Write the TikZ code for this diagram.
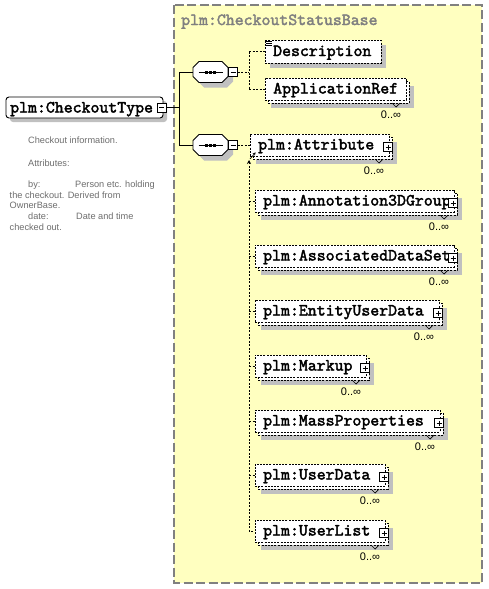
\documentclass[tikz,border=0pt]{standalone}
\usepackage{fontspec}
\setmainfont{Liberation Sans}
\newfontfamily\monob{lmmono10-regular.otf}[FakeBold=2.2]
\usetikzlibrary{arrows.meta,fit}
\definecolor{bgy}{HTML}{FFFFC0}
\definecolor{shad}{HTML}{C0C0C0}
\definecolor{tgray}{HTML}{808080}
\definecolor{dgray}{HTML}{6E6E6E}
\tikzset{
 bx/.style={draw=black, line width=0.8pt, dash pattern=on 2pt off 1.2pt},
 cn/.style={draw=black, line width=0.8pt, dash pattern=on 2pt off 1.5pt},
 sl/.style={draw=black, line width=0.9pt},
 mono/.style={font=\monob\fontsize{17}{17}\selectfont, inner sep=0},
 doc/.style={font=\fontsize{9.2}{11}\selectfont, text=dgray, inner sep=0, anchor=base west},
 mult/.style={font=\fontsize{11}{11}\selectfont, inner sep=0, anchor=base},
 pmbox/.style={draw=black, fill=white, line width=0.7pt, minimum size=9pt, inner sep=0},
 minusbox/.style={pmbox, path picture={\draw[line width=0.8pt] ([xshift=2pt]path picture bounding box.west) -- ([xshift=-2pt]path picture bounding box.east);}},
 plusbox/.style={pmbox, path picture={\draw[line width=0.8pt] ([xshift=2pt]path picture bounding box.west) -- ([xshift=-2pt]path picture bounding box.east) ([yshift=-2pt]path picture bounding box.north) -- ([yshift=2pt]path picture bounding box.south);}},
}
% element with multiplicity: name, L, T, R, text
\newcommand\melem[5]{%
 \pgfmathsetmacro\eB{#3+22}%
 \fill[shad] ({#2+6},{#3+8}) rectangle ({#4+8},{#3+30});
 \draw[bx, fill=white] ({#2+3},{#3+3}) rectangle ({#4+3},{#3+25});
 \node[bx, fill=white, inner sep=0, fit={(#2,#3) (#4,\eB)}] (#1) {};
 \node[mono, anchor=base west] (#1-t) at ({#2+8},{#3+15.5}) {#5};
 \draw[line width=0.7pt] ({#4-14},{#3+25}) -- ({#4-10},{#3+29}) -- ({#4-6},{#3+25});
 \node[mult] (#1-m) at ({#4-15},{#3+40}) {0..∞};
}
\newcommand\pelem[5]{%
 \melem{#1}{#2}{#3}{#4}{#5}
 \node[plusbox] (#1-p) at ({#4-1},{#3+13}) {};
}
% octagon sequence compositor
\newcommand\octo[3]{%
 \path[#3] ({#1-11.5},{#2-10.5}) -- ({#1+11.5},{#2-10.5}) -- ({#1+17.5},{#2-4.5}) -- ({#1+17.5},{#2+4.5}) -- ({#1+11.5},{#2+10.5}) -- ({#1-11.5},{#2+10.5}) -- ({#1-17.5},{#2+4.5}) -- ({#1-17.5},{#2-4.5}) -- cycle;}
\newcommand\seqn[3]{% name, cx, cy
 \octo{#2+5}{#3+5}{fill=shad}
 \octo{#2}{#3}{draw=black, fill=white, line width=0.9pt}
 \node[minimum width=35pt, minimum height=21pt, inner sep=0] (#1) at (#2,#3) {};
 \draw[line width=0.9pt] ({#2-12},#3) -- ({#2+12},#3);
 \fill ({#2-5.5},{#3-1.5}) rectangle ++(3,3);
 \fill ({#2-1.5},{#3-1.5}) rectangle ++(3,3);
 \fill ({#2+2.5},{#3-1.5}) rectangle ++(3,3);
 \node[minusbox] (#1-m) at ({#2+22.5},#3) {};
}
\begin{document}
\begin{tikzpicture}[x=1pt,y=-1pt]
\useasboundingbox (0,0) rectangle (489,589);
\fill[white] (0,0) rectangle (489,589);
% complex type background
\draw[fill=bgy, draw=tgray, line width=1.3pt, dash pattern=on 9pt off 3.5pt] (174,5) rectangle (482,583);
\node[mono, anchor=base west, text=tgray] (title) at (181,25) {plm:CheckoutStatusBase};

% main element
\fill[shad, rounded corners=3pt] (10,101) rectangle (167,122);
\node[draw=black, fill=white, line width=0.9pt, rounded corners=3pt, inner sep=0, fit={(6,97) (163,118)}] (main) {};
\node[mono, anchor=base west] (main-t) at (10,112.5) {plm:CheckoutType};
\node[minusbox] (main-m) at (161.5,107.5) {};
\coordinate (j1) at (179,107.5);

% documentation
\node[doc] (d1) at (28,143) {Checkout information.};
\node[doc] (d2) at (28,166) {Attributes:};
\node[doc] (d3) at (28,187.5) {by:};
\node[doc] (d4) at (75,187.5) {Person etc. holding};
\node[doc] (d5) at (9.5,198) {the checkout. Derived from};
\node[doc] (d6) at (9.5,208.5) {OwnerBase.};
\node[doc] (d7) at (28,219) {date:};
\node[doc] (d8) at (76,219) {Date and time};
\node[doc] (d9) at (9.5,230) {checked out.};

% sequences
\seqn{seq1}{210.5}{72}
\seqn{seq2}{210.5}{145}
\draw[sl] (main-m.east) -- (j1);
\draw[sl] (j1 |- seq1.west) -- (j1 |- seq2.west);
\draw[sl] (j1 |- seq1.west) -- (seq1.west);
\draw[sl] (j1 |- seq2.west) -- (seq2.west);

% first sequence children
\fill[shad] (270,45) rectangle (386,68);
\node[bx, fill=white, inner sep=0, fit={(265,40) (381,63)}] (desc) {};
\node[mono, anchor=base west] (desc-t) at (273,56) {Description};
\draw[line width=0.6pt] (266,41.5) -- (272,41.5) (266,43.5) -- (272,43.5) (266,45.5) -- (272,45.5);
\melem{appref}{265}{78}{406}{ApplicationRef}
\coordinate (j2) at (249,72);
\draw[cn] (seq1-m.east) -- (j2);
\draw[cn] (j2 |- desc.west) -- (j2 |- appref.west);
\draw[cn] (j2 |- desc.west) -- (desc.west);
\draw[cn] (j2 |- appref.west) -- (appref.west);

% second sequence children
\pelem{attr}{250}{134}{389}{plm:Attribute}
\pelem{a3d}{255}{190}{454}{plm:Annotation3DGroup}
\pelem{ads}{255}{245}{454}{plm:AssociatedDataSet}
\pelem{eud}{255}{300}{439}{plm:EntityUserData}
\pelem{mk}{255}{355}{366}{plm:Markup}
\pelem{mp}{255}{410}{440}{plm:MassProperties}
\pelem{ud}{255}{464}{385}{plm:UserData}
\pelem{ul}{255}{520}{385}{plm:UserList}

\draw[cn] (seq2-m.east) -- (attr.west);
\coordinate (vtop) at (249,160);
\draw[cn, {Stealth[length=4pt,width=4pt]}-] (vtop) -- (vtop |- ul.west) -- (ul.west);
\foreach \n in {a3d,ads,eud,mk,mp,ud}{
  \draw[cn] (vtop |- \n.west) -- (\n.west);
}
\draw[line width=0.7pt, -{Stealth[length=3pt,width=3pt]}] ([shift={(1pt,1pt)}]vtop) -- ([shift={(6pt,4pt)}]attr.south west);
\end{tikzpicture}
\end{document}
